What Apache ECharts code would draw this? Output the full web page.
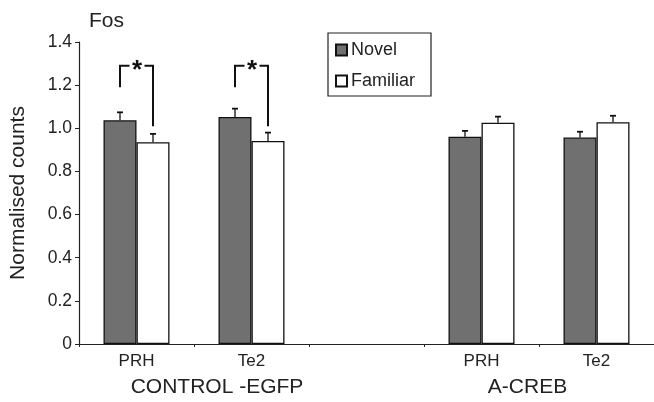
<!DOCTYPE html>
<html><head><meta charset="utf-8">
<script src="https://cdn.jsdelivr.net/npm/echarts@6/dist/echarts.min.js"></script>
<style>html,body{margin:0;padding:0;background:#fff}#c{width:654px;height:402px}</style>
</head><body><div id="c"></div>
<script>
var categories = ['PRH', 'Te2', '', 'PRH', 'Te2'];
var novel = [1.037, 1.052, null, 0.961, 0.957];
var familiar = [0.935, 0.941, null, 1.026, 1.028];
var novelErr = [0.037, 0.039, null, 0.027, 0.027];
var familiarErr = [0.039, 0.039, null, 0.028, 0.030];
// [category index, left leg bottom, bracket top, right leg bottom]
var brackets = [[0, 1.19, 1.29, 1.01], [1, 1.19, 1.29, 1.01]];
var groupNames = ['CONTROL -EGFP', 'A-CREB'];
var groupPos = [0.7, 3.4];

var FONT = 'Liberation Sans, Arial, sans-serif';
var BW = 33;
var chart = echarts.init(document.getElementById('c'));

function errItem(offset, vals, errs) {
  return function (params, api) {
    var i = params.dataIndex;
    if (vals[i] == null) return;
    var base = api.coord([i, vals[i]]);
    var top = api.coord([i, vals[i] + errs[i]]);
    var x = base[0] + offset;
    return {type: 'group', children: [
      {type: 'line', shape: {x1: x, y1: base[1], x2: x, y2: top[1]}, style: {stroke: '#111', lineWidth: 1.3}},
      {type: 'line', shape: {x1: x - 3, y1: top[1], x2: x + 3, y2: top[1]}, style: {stroke: '#111', lineWidth: 1.8}}
    ]};
  };
}

chart.setOption({
  animation: false,
  backgroundColor: '#fff',
  title: {text: 'Fos', left: 89, top: 11, padding: 0, textStyle: {fontFamily: FONT, fontSize: 21, fontWeight: 'normal', color: '#222'}},
  legend: {
    left: 328, top: 33, orient: 'vertical',
    data: ['Novel', 'Familiar'],
    icon: 'rect',
    itemWidth: 11, itemHeight: 11, itemGap: 13,
    padding: [8, 16, 6, 7],
    borderColor: '#222', borderWidth: 1.2,
    textStyle: {fontFamily: FONT, fontSize: 18, color: '#222', padding: [0, 0, 0, -1]}
  },
  grid: {left: 77, right: 0, top: 42, bottom: 58},
  xAxis: {
    type: 'category', data: categories,
    axisLine: {lineStyle: {color: '#222', width: 1.2}},
    axisTick: {show: true, length: 3, lineStyle: {color: '#222'}},
    axisLabel: {fontFamily: FONT, fontSize: 17, color: '#222', margin: 9}
  },
  yAxis: {
    type: 'value', min: 0, max: 1.4, interval: 0.2,
    name: 'Normalised counts', nameLocation: 'middle', nameGap: 50,
    nameTextStyle: {fontFamily: FONT, fontSize: 21, color: '#222'},
    splitLine: {show: false},
    axisLine: {show: true, lineStyle: {color: '#222', width: 1.2}},
    axisTick: {show: true, length: 4, lineStyle: {color: '#222'}},
    axisLabel: {fontFamily: FONT, fontSize: 17.5, color: '#222', margin: 7,
      formatter: function (v) { return v === 0 ? '0' : v.toFixed(1); }}
  },
  series: [
    {name: 'Novel', type: 'bar', data: novel, barWidth: BW, barGap: '0%',
     itemStyle: {color: '#707070', borderColor: '#111', borderWidth: 1.3}},
    {name: 'Familiar', type: 'bar', data: familiar, barWidth: BW, barGap: '0%',
     itemStyle: {color: '#ffffff', borderColor: '#111', borderWidth: 1.3}},
    {type: 'custom', data: novel.map(function (v, i) { return [i, v]; }), renderItem: errItem(-BW / 2, novel, novelErr), z: 5},
    {type: 'custom', data: familiar.map(function (v, i) { return [i, v]; }), renderItem: errItem(BW / 2, familiar, familiarErr), z: 5},
    {type: 'custom', data: brackets, z: 6, renderItem: function (params, api) {
      var i = api.value(0);
      var lb = api.coord([i, api.value(1)]);
      var tp = api.coord([i, api.value(2)]);
      var rb = api.coord([i, api.value(3)]);
      var cx = lb[0];
      var xl = cx - BW / 2, xr = cx + BW / 2;
      var st = {stroke: '#111', lineWidth: 2, fill: null};
      return {type: 'group', children: [
        {type: 'polyline', shape: {points: [[xl, lb[1]], [xl, tp[1]], [cx - 7, tp[1]]]}, style: st},
        {type: 'polyline', shape: {points: [[cx + 8, tp[1]], [xr, tp[1]], [xr, rb[1]]]}, style: st},
        {type: 'text', style: {text: '*', x: cx + 0.5, y: tp[1] + 5, align: 'center', verticalAlign: 'middle',
          font: 'bold 26px ' + FONT, fill: '#111'}}
      ]};
    }}
  ]
});

var g = groupNames.map(function (name, k) {
  var x = chart.convertToPixel({xAxisIndex: 0}, 0) + (groupPos[k]) * (chart.convertToPixel({xAxisIndex: 0}, 1) - chart.convertToPixel({xAxisIndex: 0}, 0));
  return {type: 'text', x: x, y: 387,
    style: {text: name, font: '21px ' + FONT, fill: '#222', align: 'center', verticalAlign: 'middle'}};
});
chart.setOption({graphic: g});
</script></body></html>
